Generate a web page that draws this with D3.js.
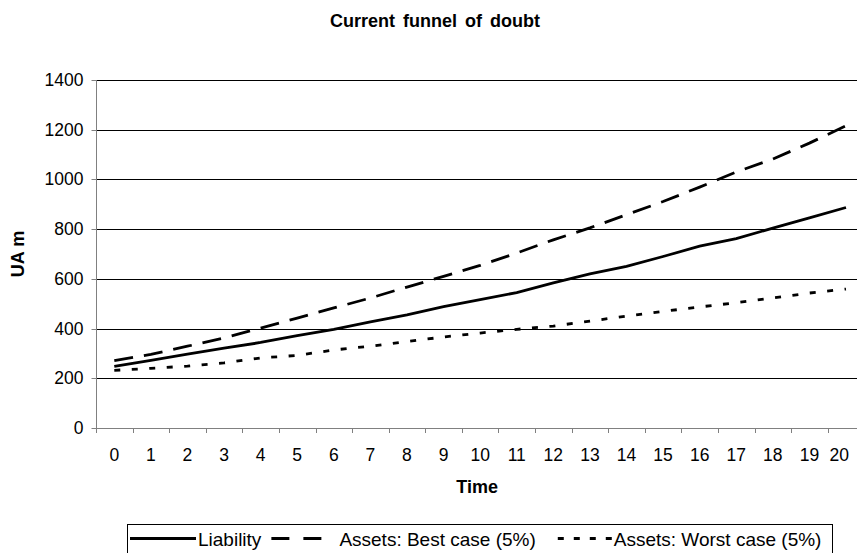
<!DOCTYPE html>
<html>
<head>
<meta charset="utf-8">
<script src="https://cdn.jsdelivr.net/npm/d3@7"></script>
<style>
  html, body { margin: 0; padding: 0; background: #fff; }
  svg { display: block; }
  text { font-family: "Liberation Sans", Arial, sans-serif; fill: #000; }
</style>
</head>
<body>
<svg id="chart" width="857" height="553"></svg>
<script>
// ---- data ----
const categories = ["0","1","2","3","4","5","6","7","8","9","10","11","12","13","14","15","16","17","18","19","20"];
const liability = [248, 272, 297, 321, 344, 372, 397, 427, 455, 488, 516, 545, 584, 620, 650, 690, 732, 762, 804, 845, 887];
const bestCase  = [271, 296, 329, 362, 402, 442, 483, 523, 567, 610, 654, 704, 757, 805, 858, 911, 969, 1030, 1082, 1146, 1216];
const worstCase = [232, 240, 249, 262, 282, 292, 314, 329, 348, 366, 382, 397, 410, 430, 450, 469, 487, 504, 523, 543, 559];
const yTicks = [0, 200, 400, 600, 800, 1000, 1200, 1400];
const seriesNames = ["Liability", "Assets: Best case (5%)", "Assets: Worst case (5%)"];
const titleText = "Current funnel of doubt";
const xTitle = "Time";
const yTitle = "UA m";

// ---- layout ----
const svg = d3.select("#chart");
const plotLeft = 96, plotTop = 80, plotBottom = 428;
const band = 36.585;
const plotRight = plotLeft + band * categories.length;
const chartRight = 849;

const x = d3.scaleBand().domain(categories).range([plotLeft, plotRight]).paddingInner(0).paddingOuter(0);
const y = d3.scaleLinear().domain([0, 1400]).range([plotBottom, plotTop]);
const cx = c => x(c) + x.bandwidth() / 2;

// gridlines
svg.append("g").selectAll("line").data(yTicks.filter(d => d > 0)).join("line")
  .attr("x1", plotLeft).attr("x2", plotRight)
  .attr("y1", d => Math.round(y(d)) + 0.5).attr("y2", d => Math.round(y(d)) + 0.5)
  .attr("stroke", "#000").attr("stroke-width", 1);

// y axis
const yAxis = svg.append("g").attr("transform", `translate(${plotLeft + 0.5},0)`)
  .call(d3.axisLeft(y).tickValues(yTicks).tickSize(5).tickPadding(8).tickFormat(d3.format("d")));
yAxis.select(".domain").attr("stroke", "#808080").attr("d", `M0,${plotTop}V${plotBottom + 0.5}`);
yAxis.selectAll(".tick line").attr("stroke", "#808080");
yAxis.selectAll(".tick text").attr("font-size", 17.5).attr("font-family", "Liberation Sans, Arial, sans-serif").attr("fill", "#000");
yAxis.selectAll(".tick").attr("transform", d => `translate(0,${Math.round(y(d)) + 0.5})`);

// x axis
const xAxis = svg.append("g").attr("transform", `translate(0,${plotBottom + 0.5})`)
  .call(d3.axisBottom(x).tickSize(0).tickPadding(20));
xAxis.select(".domain").attr("stroke", "#808080").attr("d", `M${plotLeft},0H${plotRight}`);
xAxis.selectAll(".tick text").attr("font-size", 17.5).attr("font-family", "Liberation Sans, Arial, sans-serif").attr("fill", "#000");
xAxis.selectAll(".tick").each(function(d) {
  const t = d3.select(this).select("text");
  const w = t.node().getComputedTextLength();
  const c = cx(d);
  if (c + w / 2 > chartRight) t.attr("dx", chartRight - (c + w / 2));
});
svg.append("g").selectAll("line").data(categories).join("line")
  .attr("x1", d => Math.round(x(d)) + 0.5).attr("x2", d => Math.round(x(d)) + 0.5)
  .attr("y1", plotBottom).attr("y2", plotBottom + 5)
  .attr("stroke", "#808080");

// lines
const line = d3.line().x((d, i) => cx(categories[i])).y(d => y(d));
const styles = [
  { data: liability, dash: null, legDash: null, legInset: 0 },
  { data: bestCase, dash: "19,11", legDash: "18,14,18,100", legInset: 0 },
  { data: worstCase, dash: "6,11.5", legDash: "6,10", legInset: 12 }
];
styles.forEach(s => {
  svg.append("path").datum(s.data).attr("d", line)
    .attr("fill", "none").attr("stroke", "#000").attr("stroke-width", 2.8)
    .attr("stroke-dasharray", s.dash);
});

// titles
svg.append("text").attr("x", 435).attr("y", 27).attr("text-anchor", "middle")
  .attr("font-size", 18).attr("font-weight", "bold").attr("word-spacing", 3).text(titleText);
svg.append("text").attr("x", (plotLeft + plotRight) / 2 - 3).attr("y", 493).attr("text-anchor", "middle")
  .attr("font-size", 18).attr("font-weight", "bold").text(xTitle);
svg.append("text").attr("transform", `translate(24,${(plotTop + plotBottom) / 2}) rotate(-90)`)
  .attr("text-anchor", "middle").attr("font-size", 18).attr("font-weight", "bold").text(yTitle);

// legend (centred under the plot area)
const legG = svg.append("g");
const sampleLen = 66, textGap = 2, spacing = 10, padL = 3, padR = 11;
const texts = seriesNames.map(n => legG.append("text").attr("font-size", 19).attr("y", 545.5).text(n));
const widths = texts.map(t => t.node().getComputedTextLength());
const legWidth = padL + 3 * (sampleLen + textGap) + d3.sum(widths) + 2 * spacing + padR;
const legLeft = Math.round((plotLeft + plotRight) / 2 - legWidth / 2);
const legTop = 524, legBottom = 553;
legG.insert("rect", "text").attr("x", legLeft + 0.5).attr("y", legTop + 0.5)
  .attr("width", Math.round(legWidth)).attr("height", legBottom - legTop)
  .attr("fill", "#fff").attr("stroke", "#000").attr("stroke-width", 1);
let cur = legLeft + padL;
styles.forEach((s, i) => {
  legG.append("line").attr("x1", cur + s.legInset).attr("x2", cur + sampleLen).attr("y1", 538.5).attr("y2", 538.5)
    .attr("stroke", "#000").attr("stroke-width", 2.8).attr("stroke-dasharray", s.legDash);
  cur += sampleLen + textGap;
  texts[i].attr("x", cur);
  cur += widths[i] + spacing;
});
</script>
</body>
</html>
